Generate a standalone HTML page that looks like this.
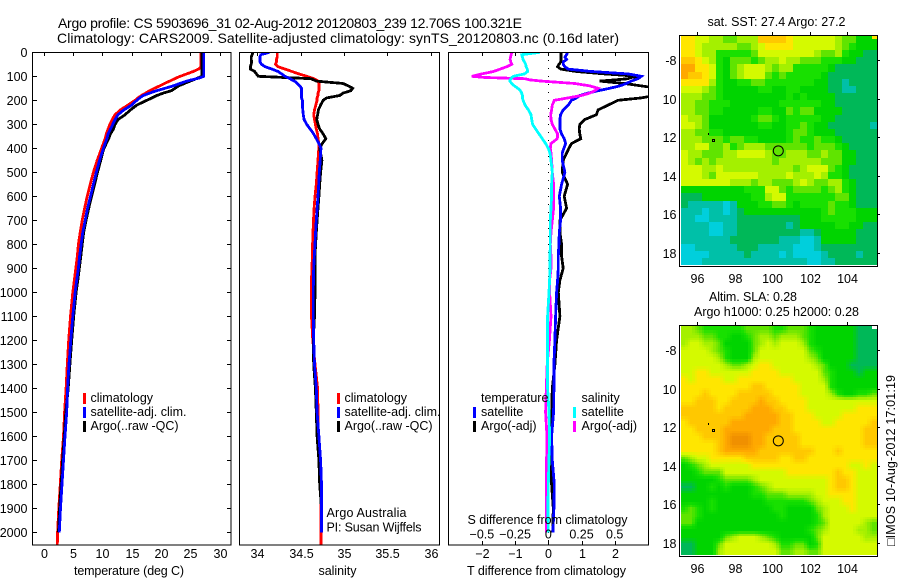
<!DOCTYPE html>
<html lang="en">
<head>
<meta charset="utf-8">
<title>Argo profile chart</title>
<style>
html,body{margin:0;padding:0;background:#fff;width:900px;height:580px;overflow:hidden}
svg{display:block}
text{font-family:"Liberation Sans",sans-serif;font-size:12.5px;fill:#000}
.ln{fill:none;stroke-width:2.8;stroke-linejoin:miter;shape-rendering:crispEdges}
.fr{fill:none;stroke:#000;stroke-width:1.4;shape-rendering:crispEdges}
.tk{stroke:#000;stroke-width:1;shape-rendering:crispEdges}
</style>
</head>
<body>
<svg id="chart" xmlns="http://www.w3.org/2000/svg" width="900" height="580" viewBox="0 0 900 580">
<defs>
<clipPath id="clip-t"><rect x="33" y="52" width="198" height="493"/></clipPath>
<clipPath id="clip-s"><rect x="240" y="52" width="199" height="493"/></clipPath>
<clipPath id="clip-d"><rect x="449" y="52" width="199" height="493"/></clipPath>
</defs>
<text x="58" y="28" textLength="464" style="font-size:14px">Argo profile: CS 5903696_31 02-Aug-2012 20120803_239 12.706S 100.321E</text>
<text x="57" y="43" textLength="562" style="font-size:14px">Climatology: CARS2009. Satellite-adjusted climatology: synTS_20120803.nc (0.16d later)</text>

<g id="heat-sst"></g>
<g id="heat-sla"></g>
<g id="lines-t" clip-path="url(#clip-t)"></g>
<g id="lines-s" clip-path="url(#clip-s)"></g>
<line x1="548.5" y1="52" x2="548.5" y2="545" stroke="#000" stroke-width="1" stroke-dasharray="1 7"/>
<g id="lines-d" clip-path="url(#clip-d)"></g>
<g id="axes"></g>

<g>
<rect x="83" y="393" width="3" height="11" fill="#f00"/>
<rect x="83" y="407" width="3" height="11" fill="#00f"/>
<rect x="83" y="421" width="3" height="11" fill="#000"/>
<text x="90.5" y="402">climatology</text>
<text x="90.5" y="416" textLength="96">satellite-adj. clim.</text>
<text x="90.5" y="430" textLength="88">Argo(..raw -QC)</text>
</g>
<g>
<rect x="337" y="393" width="3" height="11" fill="#f00"/>
<rect x="337" y="407" width="3" height="11" fill="#00f"/>
<rect x="337" y="421" width="3" height="11" fill="#000"/>
<text x="344.5" y="402">climatology</text>
<text x="344.5" y="416" textLength="96">satellite-adj. clim.</text>
<text x="344.5" y="430" textLength="88">Argo(..raw -QC)</text>
<text x="326.5" y="517" textLength="80">Argo Australia</text>
<text x="326.5" y="531.5" textLength="95">PI: Susan Wijffels</text>
</g>
<g>
<text x="481" y="402">temperature</text>
<rect x="473" y="407" width="3" height="11" fill="#00f"/>
<rect x="473" y="421" width="3" height="11" fill="#000"/>
<text x="481" y="416">satellite</text>
<text x="481" y="430">Argo(-adj)</text>
<text x="581.5" y="402">salinity</text>
<rect x="573" y="407" width="3" height="11" fill="#0ff"/>
<rect x="573" y="421" width="3" height="11" fill="#f0f"/>
<text x="581.5" y="416">satellite</text>
<text x="581.5" y="430">Argo(-adj)</text>
</g>
<text x="74" y="575" textLength="110">temperature (deg C)</text>
<text x="318.5" y="575" textLength="38">salinity</text>
<text x="467.5" y="524" textLength="160">S difference from climatology</text>
<text x="467" y="575" textLength="159">T difference from climatology</text>
<text x="707.5" y="26" textLength="138">sat. SST: 27.4 Argo: 27.2</text>
<text x="709" y="301" textLength="88">Altim. SLA: 0.28</text>
<text x="694" y="316" textLength="165">Argo h1000: 0.25 h2000: 0.28</text>
<text transform="translate(895 546) rotate(-90)" textLength="171">□IMOS 10-Aug-2012 17:01:19</text>
</svg>
<script>
// ---- profile data ----
const depths = [0,10,20,30,40,50,60,70,80,90,100,105,110,115,120,130,140,150,160,170,180,190,200,220,240,260,280,300,320,340,360,380,400,420,450,500,550,600,650,700,750,800,850,900,950,1000,1100,1200,1300,1400,1500,1600,1700,1800,1900,2000,2054];
const tempClim = [26.8,26.8,26.8,26.8,26.8,26.8,26.8,26.4,25.5,24.4,23.3,22.8,22.4,21.9,21.5,20.6,19.8,18.9,18.1,17.4,16.7,16.1,15.6,14.4,13.1,12.2,11.7,11.3,11,10.7,10.5,10.2,9.9,9.6,9.15,8.5,7.95,7.45,7.0,6.6,6.25,5.95,5.75,5.5,5.25,5.0,4.6,4.3,4.05,3.85,3.6,3.4,3.1,2.87,2.6,2.4,2.35];
const tempSat = [27.3,27.3,27.3,27.3,27.3,27.3,27.3,27.3,27.3,27.3,27.3,26.8,26.1,25.2,24.4,23.2,22.1,20.7,19.3,18.1,17,16.4,15.9,15,13.7,12.7,12.2,11.8,11.4,11,10.8,10.5,10.2,9.95,9.55,9.0,8.5,8.0,7.5,7.1,6.7,6.4,6.15,5.95,5.65,5.4,5.0,4.65,4.35,4.1,3.95,3.66,3.4,3.15,2.9,2.7,null];
const tempArgo = [27,27,27,27,27,27,27,27,27,27,27,26.5,26,25.5,25,24,23,22.4,21.8,20.4,19.3,18.5,17.6,15.9,14.8,13.9,12.7,12.2,11.9,11.4,11.1,10.7,10.3,10.05,9.75,9.2,8.7,8.2,7.7,7.25,6.85,6.6,6.35,6.1,5.85,5.55,5.15,4.8,4.5,4.2,3.8,3.55,3.25,3,2.75,2.55,null];
const salClim = [34.23,34.23,34.23,34.22,34.22,34.21,34.24,34.32,34.40,34.48,34.57,34.61,34.65,34.68,34.70,34.71,34.71,34.71,34.71,34.70,34.70,34.69,34.69,34.675,34.66,34.65,34.66,34.67,34.68,34.695,34.70,34.71,34.71,34.705,34.70,34.69,34.68,34.665,34.655,34.648,34.643,34.638,34.635,34.63,34.625,34.623,34.625,34.64,34.665,34.695,34.70,34.705,34.72,34.735,34.735,34.735,34.735];
const salSat = [34.14,34.04,34.03,34.03,34.03,34.05,34.09,34.17,34.24,34.28,34.32,34.35,34.38,34.40,34.43,34.46,34.49,34.51,34.51,34.51,34.51,34.51,34.52,34.52,34.525,34.53,34.54,34.57,34.61,34.65,34.68,34.71,34.735,34.73,34.725,34.715,34.708,34.70,34.69,34.68,34.673,34.665,34.657,34.651,34.647,34.646,34.646,34.65,34.66,34.68,34.69,34.71,34.73,34.74,34.74,34.74,null];
const salArgo = [33.95,33.94,33.93,33.93,33.935,33.93,33.92,33.92,33.97,33.99,34.01,34.32,34.62,34.65,34.68,34.99,35.05,35.10,35.08,34.99,34.95,34.80,34.76,34.73,34.705,34.695,34.685,34.70,34.72,34.76,34.79,34.75,34.72,34.73,34.745,34.73,34.72,34.71,34.70,34.69,34.68,34.672,34.665,34.665,34.665,34.665,34.66,34.645,34.65,34.67,34.68,34.69,34.71,34.72,34.74,34.74,null];
const diffTArgo = [.38,.38,.38,.38,.38,.32,.28,.38,.85,1.7,2.7,2.5,2.4,2.0,1.55,2.3,2.8,3.3,3.6,3.5,3.2,2.8,2.1,1.8,1.5,1.45,1.1,.95,.93,.95,.98,.7,.62,.55,.45,.42,.58,.48,.55,.35,.35,.4,.4,.45,.35,.3,.35,.25,.2,.12,.1,.08,.1,.1,.15,.13,null];
const diffTSat = [.58,.55,.5,.55,.45,.45,.5,.6,1.3,2.4,2.8,2.75,2.7,2.6,2.5,2.35,2.15,1.85,1.5,1.2,.95,.85,.7,.6,.45,.37,.35,.35,.35,.4,.48,.52,.47,.42,.42,.5,.4,.33,.37,.37,.33,.32,.3,.3,.28,.25,.22,.2,.17,.17,.16,.1,.12,.18,.17,.14,null];
const diffSSat = [-.0625,-.2,-.195,-.19,-.18,-.17,-.1675,-.158,-.155,-.18,-.2625,-.275,-.28,-.2875,-.29,-.275,-.255,-.23,-.21,-.2,-.195,-.195,-.19,-.175,-.15,-.13,-.125,-.118,-.095,-.07,-.045,-.02,0,.0125,.02,.03,.025,.025,.02,.015,.015,.015,.0125,.0125,.01,.005,-.005,-.005,-.005,-.005,.005,.01,.005,0,-.002,0,null];
const diffSArgo = [-.275,-.28,-.285,-.2875,-.2825,-.275,-.3125,-.3625,-.4125,-.5,-.575,-.475,-.175,-.1375,-.05,.2,.3125,.375,.35,.3125,.25,.15,.045,.03,.025,.018,.02,.03,.05,.07,.068,.02,.015,.02,.025,.03,.04,.04,.04,.03,.02,.015,.02,.02,.01,.01,.02,.008,-.008,-.015,-.02,-.01,-.0125,-.0125,-.0125,-.0125,null];

// ---- axis tick labels ----
const depthTicks = [0,100,200,300,400,500,600,700,800,900,1000,1100,1200,1300,1400,1500,1600,1700,1800,1900,2000];
const tempTicks = [0,5,10,15,20,25,30];
const salTicks = [34,34.5,35,35.5,36];
const diffTTicks = [-2,-1,0,1,2];
const diffSTicks = [-0.5,-0.25,0,0.25,0.5];
const lonTicks = [96,98,100,102,104];
const latTicks = [-8,-10,-12,-14,-16,-18];

// ---- float position ----
const floatLon = [100.32];
const floatLat = [-12.706];

// ---- map colour levels (0 = cool .. 11 = warm), north at top ----
const sstGrid = [
[8,8,7,7,6,6,5,5,6,6,6,9,9,9,9,8,7,7,7,7,7,7,6,5,5,3,3,3],
[8,8,7,6,6,6,6,6,5,5,6,7,8,8,8,8,7,7,7,7,7,7,6,5,4,3,3,3],
[8,8,7,6,6,4,4,4,4,4,5,7,7,7,7,7,7,7,7,6,5,5,6,4,3,3,2,2],
[9,9,8,7,6,4,3,5,5,5,4,5,6,6,7,6,6,5,5,5,4,4,4,3,3,2,2,2],
[10,10,8,8,7,4,3,5,6,7,7,7,6,5,6,6,4,4,4,4,4,3,2,2,2,2,2,2],
[10,9,9,8,7,4,3,5,6,7,7,7,5,4,5,4,4,4,4,4,3,2,2,2,2,2,2,2],
[8,8,8,8,6,4,3,3,4,4,5,5,4,4,4,4,4,4,4,3,3,2,2,1,2,2,2,2],
[7,7,7,6,5,4,3,3,3,3,3,4,4,3,3,4,4,3,3,3,3,2,2,1,1,2,2,2],
[6,6,6,5,5,4,3,3,3,3,3,3,3,3,3,4,3,4,3,3,3,3,2,2,2,2,2,2],
[6,6,5,5,4,4,4,3,3,3,3,3,3,3,4,4,4,4,4,4,3,3,2,2,2,2,2,2],
[6,6,5,5,4,4,3,3,3,3,3,4,4,3,3,5,4,5,5,3,3,3,3,2,2,2,2,2],
[7,6,6,5,3,3,3,3,3,3,4,5,5,4,3,4,4,4,4,4,3,3,2,2,2,2,2,2],
[7,7,6,5,3,3,3,3,3,3,3,4,4,3,3,4,4,5,4,3,3,2,2,2,2,2,2,1],
[6,6,5,5,4,4,3,3,3,3,3,3,3,3,3,4,5,5,4,3,3,3,2,2,2,2,2,2],
[6,6,6,5,5,5,4,5,5,4,4,3,3,3,3,4,5,4,4,5,4,4,3,2,2,2,2,2],
[6,6,7,7,5,5,6,4,5,6,6,6,5,5,5,5,5,5,4,5,5,5,4,3,2,2,2,2],
[7,6,6,5,5,5,6,6,7,7,7,7,6,5,5,6,6,6,5,5,6,5,5,3,3,2,2,2],
[7,6,5,6,5,6,6,6,6,6,6,6,6,5,6,6,6,6,6,6,5,5,5,3,3,2,2,2],
[7,7,7,6,6,7,6,6,6,6,6,6,6,6,6,6,5,6,7,7,7,5,4,3,2,2,2,2],
[7,7,7,6,5,7,7,7,7,7,7,6,6,6,6,7,6,6,6,7,6,4,4,3,2,2,2,2],
[7,7,7,7,7,7,7,6,6,6,5,6,6,5,5,5,6,7,6,5,5,6,6,4,3,2,2,2],
[3,3,3,3,3,3,3,3,3,4,4,4,7,7,5,4,5,5,5,5,4,5,6,4,3,2,2,2],
[2,2,2,3,3,3,3,3,3,3,4,4,6,7,7,4,4,4,4,4,4,4,5,5,3,2,2,2],
[2,1,1,1,1,1,0,1,3,3,3,4,4,5,5,4,3,4,4,4,4,5,4,4,3,2,2,2],
[1,1,1,0,1,1,0,1,2,3,3,3,3,3,3,3,3,3,3,3,4,5,4,4,4,3,3,3],
[1,1,0,0,1,1,1,1,2,2,2,2,2,2,2,2,2,3,3,3,4,4,4,4,4,3,3,3],
[1,1,1,1,0,0,1,1,2,2,2,2,2,2,2,1,2,3,3,3,3,3,4,4,3,3,2,2],
[1,1,1,1,0,0,1,1,2,2,2,2,2,2,2,2,2,1,1,2,3,3,3,3,3,2,2,2],
[1,1,1,1,1,1,1,2,2,2,2,2,2,2,1,1,1,0,0,1,3,3,3,3,3,2,2,2],
[0,0,1,1,1,1,1,1,2,2,2,1,1,1,1,1,0,0,0,1,2,2,2,2,2,2,2,2],
[0,0,0,0,1,1,1,1,1,2,1,1,1,1,0,1,0,0,0,0,1,2,2,2,2,1,2,2],
[0,0,0,1,1,1,1,1,1,1,1,1,1,1,1,1,1,1,0,0,1,1,2,2,2,2,2,2]
];
const slaGrid = [
[6,6,5,4,4,4,4,4,4,5,5,5,5,4,4,5,5,5,4,3,3,3,3,3,3,2,2,2],
[6,6,6,5,5,4,4,3,3,4,5,6,6,5,6,6,6,5,4,3,3,3,3,3,3,2,2,2],
[6,7,7,6,6,5,3,3,3,3,5,6,7,6,7,7,7,6,4,3,3,3,3,3,3,2,2,2],
[7,7,7,7,6,5,4,3,3,3,5,7,7,7,7,7,7,7,5,4,3,3,3,3,3,2,2,2],
[7,7,7,7,7,6,4,3,3,3,6,7,7,7,7,7,7,7,6,5,3,3,3,3,3,2,2,2],
[7,7,7,7,7,7,6,5,5,6,7,8,8,7,7,7,7,7,7,6,5,3,3,3,2,2,2,2],
[7,7,8,8,7,7,7,7,7,7,8,8,8,8,7,7,7,7,7,7,5,4,3,3,3,2,3,3],
[8,7,8,8,8,8,7,7,8,8,8,8,8,8,8,8,7,7,7,7,6,4,3,3,3,3,3,3],
[8,8,8,8,8,8,8,8,8,8,9,9,8,8,8,8,8,7,7,7,7,4,3,3,3,3,3,3],
[8,8,8,9,8,8,8,8,9,9,9,9,9,8,8,8,8,7,7,7,7,6,4,3,3,4,4,5],
[8,8,9,9,9,8,8,9,9,9,9,10,9,9,8,8,8,8,7,7,7,7,7,7,7,7,7,7],
[9,9,9,9,9,8,9,9,9,9,10,10,10,9,9,8,8,8,7,7,7,7,7,7,7,8,8,8],
[9,9,9,9,9,9,9,9,9,10,10,10,10,10,9,9,8,8,8,7,7,7,7,8,8,8,8,8],
[8,9,9,9,9,9,9,10,10,10,10,10,10,10,9,9,8,8,8,8,7,7,8,8,8,8,8,9],
[8,8,9,9,9,9,10,10,10,10,10,10,10,9,9,9,8,8,8,8,8,8,8,8,8,8,9,9],
[8,8,8,9,9,9,10,11,11,11,10,10,9,9,9,9,9,8,8,8,8,8,8,8,8,8,9,9],
[8,8,8,8,8,9,10,11,11,11,10,10,9,9,9,9,9,8,8,8,8,8,8,8,8,8,9,9],
[8,8,8,8,8,9,10,10,10,10,10,9,9,9,9,9,9,9,9,8,8,8,9,8,8,8,8,8],
[5,6,7,7,8,8,8,8,8,9,9,9,9,9,8,8,9,9,8,8,8,8,8,8,8,8,8,8],
[3,4,5,6,7,7,7,7,7,7,8,8,8,8,8,8,8,8,8,8,8,8,8,8,7,7,8,7],
[3,3,4,5,5,5,7,7,7,7,7,7,7,7,7,8,8,8,8,8,8,8,9,8,8,7,7,7],
[3,3,3,3,3,4,5,5,5,5,6,7,7,7,7,7,7,7,7,7,7,8,9,9,8,7,7,7],
[2,2,3,3,4,3,4,3,3,3,4,5,6,7,7,7,7,7,7,7,7,8,9,9,8,7,7,7],
[3,3,3,3,3,3,3,3,3,3,4,4,5,5,5,6,6,6,6,7,7,8,8,8,8,7,7,7],
[3,3,3,3,4,3,3,3,3,3,3,3,4,4,4,4,4,4,5,6,7,7,7,8,8,7,7,7],
[4,5,4,3,4,3,3,3,3,3,3,3,3,4,4,3,3,3,3,5,6,7,7,7,8,7,7,7],
[5,5,4,3,3,3,3,3,3,3,3,3,3,3,4,3,3,3,3,4,6,7,7,7,7,7,7,7],
[5,5,3,3,3,3,3,3,3,3,3,3,3,3,3,3,3,3,3,4,5,7,7,7,7,7,6,5],
[3,3,3,3,3,3,3,3,3,3,3,3,3,3,3,3,3,3,4,5,6,7,7,7,7,6,6,5],
[3,3,3,3,3,3,5,6,7,7,7,6,5,4,3,3,3,3,3,5,7,7,7,7,7,7,6,6],
[2,2,3,3,3,5,7,7,7,7,7,7,7,6,4,4,5,5,3,4,7,7,7,7,7,7,7,7],
[2,2,3,3,3,6,7,7,7,7,7,7,7,7,5,5,6,6,5,5,7,7,7,7,7,7,7,7]
];
const mapPalette = [[0,207,220],[0,192,168],[0,184,88],[0,212,0],[24,224,0],[96,228,0],[164,240,0],[212,250,0],[255,230,0],[255,200,0],[255,168,0],[240,144,0]];

// ---- axis functions ----
const yDepth = d => 52.3 + d * 0.24;
const xTemp = t => 43.5 + t * 5.87;
const xSal = s => 257.3 + (s - 34) * 86.7;
const xDiffT = t => 548.3 + t * 33.2;
const xDiffS = s => 548.3 + s * 132.8;
const xLon = lon => 697.3 + (lon - 96) * 18.75;
const yLat = lat => 60 + (-8 - lat) * 19.3;

const NS = 'http://www.w3.org/2000/svg';
function mk(tag, parent) {
  const el = document.createElementNS(NS, tag);
  parent.appendChild(el);
  return el;
}
function drawLine(parent, values, xf, color, name) {
  const pts = [];
  values.forEach((v, i) => { if (v !== null) pts.push(xf(v).toFixed(1) + ',' + yDepth(depths[i]).toFixed(1)); });
  const el = mk('polyline', parent);
  
  
  el.setAttribute('class', 'ln');
  el.setAttribute('stroke', color);
  el.setAttribute('points', pts.join(' '));
}
const gT = document.getElementById('lines-t');
drawLine(gT, tempClim, xTemp, '#f00', 'temperature-climatology-line');
drawLine(gT, tempArgo, xTemp, '#000', 'temperature-argo-line');
drawLine(gT, tempSat, xTemp, '#00f', 'temperature-satellite-line');
const gS = document.getElementById('lines-s');
drawLine(gS, salClim, xSal, '#f00', 'salinity-climatology-line');
drawLine(gS, salArgo, xSal, '#000', 'salinity-argo-line');
drawLine(gS, salSat, xSal, '#00f', 'salinity-satellite-line');
const gD = document.getElementById('lines-d');
drawLine(gD, diffTArgo, xDiffT, '#000', 't-difference-argo-line');
drawLine(gD, diffTSat, xDiffT, '#00f', 't-difference-satellite-line');
drawLine(gD, diffSArgo, xDiffS, '#f0f', 's-difference-argo-line');
drawLine(gD, diffSSat, xDiffS, '#0ff', 's-difference-satellite-line');

function levelColor(v) {
  const t = Math.max(0, Math.min(mapPalette.length - 1, v));
  const i = Math.min(mapPalette.length - 2, Math.floor(t));
  const f = t - i;
  const a = mapPalette[i], b = mapPalette[i + 1];
  return 'rgb(' + [0, 1, 2].map(k => Math.round(a[k] + (b[k] - a[k]) * f)).join(',') + ')';
}
function sampleGrid(grid, r, c) {
  const rows = grid.length, cols = grid[0].length;
  const rr = Math.max(0, Math.min(rows - 1, r)), cc = Math.max(0, Math.min(cols - 1, c));
  const r0 = Math.min(rows - 2, Math.floor(rr)), c0 = Math.min(cols - 2, Math.floor(cc));
  const fr = rr - r0, fc = cc - c0;
  return (grid[r0][c0] * (1 - fc) + grid[r0][c0 + 1] * fc) * (1 - fr) + (grid[r0 + 1][c0] * (1 - fc) + grid[r0 + 1][c0 + 1] * fc) * fr;
}
function drawMap(groupId, grid, dy, namePrefix, sub) {
  const g = document.getElementById(groupId);
  const x0 = 680.7, x1 = 876.7, y0 = 35.7 + dy, y1 = 265 + dy;
  const rows = grid.length * sub, cols = grid[0].length * sub;
  for (let r = 0; r < rows; r++) {
    for (let c = 0; c < cols; c++) {
      const rect = mk('rect', g);
      
      
      const xa = Math.round(x0 + c * (x1 - x0) / cols), xb = Math.round(x0 + (c + 1) * (x1 - x0) / cols);
      const ya = Math.round(y0 + r * (y1 - y0) / rows), yb = Math.round(y0 + (r + 1) * (y1 - y0) / rows);
      rect.setAttribute('x', xa);
      rect.setAttribute('y', ya);
      rect.setAttribute('width', xb - xa);
      rect.setAttribute('height', yb - ya);
      rect.setAttribute('fill', levelColor(sampleGrid(grid, (r + 0.5) / sub - 0.5, (c + 0.5) / sub - 0.5)));
    }
  }
}
drawMap('heat-sst', sstGrid, 0, 'sst', 1);
drawMap('heat-sla', slaGrid, 290, 'sla', 3);

const axes = document.getElementById('axes');
function frame(x, y, w, h, name) {
  const r = mk('rect', axes);
  
  
  r.setAttribute('class', 'fr');
  r.setAttribute('x', x);
  r.setAttribute('y', y);
  r.setAttribute('width', w);
  r.setAttribute('height', h);
}
function tick(x1, y1, x2, y2) {
  const l = mk('line', axes);
  
  
  l.setAttribute('class', 'tk');
  l.setAttribute('x1', x1);
  l.setAttribute('y1', y1);
  l.setAttribute('x2', x2);
  l.setAttribute('y2', y2);
}
function label(x, y, str, anchor) {
  const t = mk('text', axes);
  
  
  t.setAttribute('x', x);
  t.setAttribute('y', y);
  t.setAttribute('text-anchor', anchor);
  t.textContent = str;
}
frame(32.5, 52.5, 198.5, 492.5, 'temperature-plot-frame');
frame(239.5, 52.5, 200, 492.5, 'salinity-plot-frame');
frame(448.5, 52.5, 200, 492.5, 'difference-plot-frame');

depthTicks.forEach(d => {
  const y = Math.round(yDepth(d)) + 0.5;
  tick(33, y, 37, y);
  tick(227, y, 231, y);
  label(27.5, y + 4.5, String(d), 'end');
});
tempTicks.forEach(t => {
  const x = Math.round(xTemp(t)) + 0.5;
  tick(x, 52, x, 56);
  label(x, 558, String(t), 'middle');
});
salTicks.forEach(s => {
  const x = Math.round(xSal(s)) + 0.5;
  tick(x, 52, x, 56);
  label(x, 558, String(s), 'middle');
});
diffTTicks.forEach(t => {
  const x = Math.round(xDiffT(t)) + 0.5;
  tick(x, 52, x, 56);
  tick(x, 541, x, 545);
  label(x, 558, String(t).replace('-', '\u2212'), 'middle');
});
diffSTicks.forEach(s => {
  label(xDiffS(s), 538.5, String(s).replace('-', '\u2212'), 'middle');
});

[0, 290].forEach((dy, idx) => {
  const prefix = idx === 0 ? 'sst' : 'sla';
  frame(679.5, 35.5 + dy, 198, 231, prefix + '-map-frame');
  lonTicks.forEach(lon => {
    const x = Math.round(xLon(lon)) + 0.5;
    tick(x, 32 + dy, x, 35 + dy);
    label(x, 283 + dy, String(lon), 'middle');
  });
  latTicks.forEach(lat => {
    const y = Math.round(yLat(lat)) + 0.5 + dy;
    tick(877, y, 880, y);
    label(676.5, y + 4.5, lat === -8 ? '-8' : String(-lat), 'end');
  });
  const c = mk('circle', axes);
  
  
  c.setAttribute('cx', xLon(floatLon[0]));
  c.setAttribute('cy', yLat(floatLat[0]) + dy);
  c.setAttribute('r', 5);
  c.setAttribute('fill', 'none');
  c.setAttribute('stroke', '#000');
  c.setAttribute('stroke-width', 1);
  const m1 = mk('rect', axes);
  
  
  m1.setAttribute('x', 712.5);
  m1.setAttribute('y', 139.5 + dy);
  m1.setAttribute('width', 2);
  m1.setAttribute('height', 2);
  m1.setAttribute('fill', 'none');
  m1.setAttribute('stroke', '#000');
  m1.setAttribute('stroke-width', 1);
  m1.setAttribute('shape-rendering', 'crispEdges');
  const m2 = mk('rect', axes);
  
  
  m2.setAttribute('x', 708);
  m2.setAttribute('y', 133 + dy);
  m2.setAttribute('width', 1);
  m2.setAttribute('height', 2);
  m2.setAttribute('fill', '#000');
  const m3 = mk('rect', axes);
  
  
  m3.setAttribute('x', 872);
  m3.setAttribute('y', 36 + dy);
  m3.setAttribute('width', 5);
  m3.setAttribute('height', 3);
  m3.setAttribute('fill', idx === 0 ? '#ffe600' : '#fff');
});
</script>
</body>
</html>
